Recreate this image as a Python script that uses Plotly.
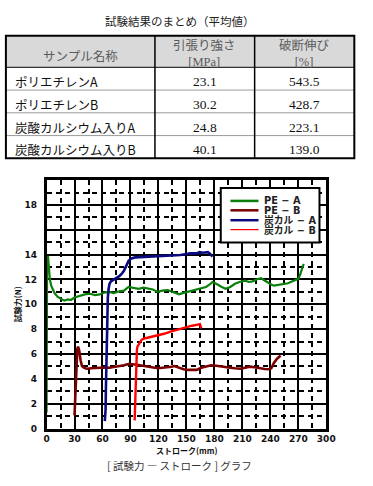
import plotly.graph_objects as go

W, H = 373, 486

# ---------------- data ----------------
table_title = "試験結果のまとめ（平均値）"
header_labels = ["サンプル名称", "引張り強さ<br>[MPa]", "破断伸び<br>[%]"]
sample_names = ["ポリエチレンA", "ポリエチレンB", "炭酸カルシウム入りA", "炭酸カルシウム入りB"]
tensile_strength = ["23.1", "30.2", "24.8", "40.1"]
elongation = ["543.5", "428.7", "223.1", "139.0"]

series_names = ["PE − A", "PE − B", "炭カル − A", "炭カル − B"]

pe_a_x = [0, 0.3, 0.6, 1.0, 1.5, 2.5, 3.5, 5, 8.6, 12, 16, 19, 23, 26, 30, 36, 41, 46.7, 52, 57,
          62, 67.5, 72, 78, 83, 88, 93, 98.6, 104, 109, 114, 119, 124, 130, 136, 142, 146, 150.6, 156, 161,
          166, 171, 175, 178, 181, 185, 188, 192, 197, 202, 207, 213, 217, 221, 225, 230, 234, 237, 241, 244,
          249, 254, 259, 265, 268, 270, 272, 273.5, 275, 276]
pe_a_y = [1.3, 8.0, 13.9, 13.5, 13.9, 12.8, 12.05, 11.5, 10.9, 10.6, 10.4, 10.3, 10.4, 10.35, 10.55, 10.7, 10.8, 10.85, 10.75, 10.8,
          10.95, 11.0, 10.9, 11.05, 11.1, 11.4, 11.35, 11.25, 11.35, 11.3, 11.2, 11.0, 11.1, 11.15, 11.0, 10.8, 10.9, 11.0, 11.1, 11.2,
          11.3, 11.4, 11.6, 11.8, 11.7, 11.5, 11.4, 11.25, 11.4, 11.65, 11.8, 11.9, 11.8, 11.85, 12.0, 12.1, 11.9, 11.8, 11.6, 11.5,
          11.55, 11.65, 11.7, 11.9, 12.0, 12.05, 12.4, 12.85, 13.1, 13.25]

pe_b_x = [30, 31, 32, 33, 33.8, 35, 36.5, 38, 40, 43, 48, 52, 57, 62, 67.5, 72, 78, 83, 88, 92,
          95, 100, 105.6, 111, 116, 122, 130, 134, 137, 142, 147, 152, 156, 161, 166, 171, 176.5, 182, 187, 192,
          197, 202, 207.7, 213, 218, 223, 228, 234, 239, 241, 244, 247, 251]
pe_b_y = [1.06, 3.0, 5.5, 6.4, 6.6, 6.3, 5.5, 5.03, 4.9, 4.82, 4.85, 4.88, 4.9, 4.92, 4.9, 4.95, 5.03, 5.1, 5.2, 5.2,
          5.15, 5.1, 5.03, 4.95, 4.9, 4.88, 4.9, 4.97, 5.03, 4.9, 4.77, 4.72, 4.72, 4.72, 4.9, 5.0, 5.09, 5.05, 4.98, 4.93,
          4.9, 4.85, 4.82, 4.9, 4.98, 4.93, 4.85, 4.8, 4.77, 4.85, 5.3, 5.6, 5.88]

ca_a_x = [62.5, 63.3, 63.6, 63.9, 64.2, 64.5, 64.7, 65.2, 65.7, 66.5, 67.5, 69, 72.7, 75, 78, 80.5, 83, 85.5, 88, 91,
          95, 100, 109, 117, 126, 135, 143.6, 150, 154, 161, 164, 168, 171, 173, 175, 178]
ca_a_y = [0.6, 1.5, 3.0, 4.5, 6.0, 6.8, 8.1, 9.5, 10.5, 11.2, 11.65, 11.85, 12.0, 12.1, 12.27, 12.45, 12.7, 13.1, 13.5, 13.7,
          13.78, 13.8, 13.83, 13.85, 13.9, 13.93, 13.97, 14.05, 14.1, 14.1, 14.2, 14.15, 14.2, 14.2, 14.1, 13.85]

ca_b_x = [94.5, 95, 95.8, 96.4, 96.9, 97.5, 98.6, 100, 102, 106, 112, 119, 126, 133, 140, 145, 150.6, 156, 161, 164.5, 166]
ca_b_y = [0.66, 2.0, 3.7, 5.3, 6.36, 6.6, 6.76, 6.95, 7.15, 7.27, 7.36, 7.5, 7.63, 7.8, 7.95, 8.1, 8.2, 8.28, 8.35, 8.4, 8.07]

x_ticks = [0, 30, 60, 90, 120, 150, 180, 210, 240, 270, 300]
y_ticks = [0, 2, 4, 6, 8, 10, 12, 14, 16, 18, 20]
y_ticktext = ["0", "2", "4", "6", "8", "10", "12", "14", "", "18", ""]

colors = ["#0a7f0a", "#7a0000", "#0a0a80", "#ff0000"]
widths = [2.2, 2.6, 2.6, 2.4]

# ---------------- helpers (pixel -> paper) ----------------
def PX(x):
    return x / W

def PY(y):
    return 1 - y / H

fig = go.Figure()

shapes = []
annotations = []

def add_text(text, x, y, size, family, color="#111", xanchor="center", weight="normal", angle=0, pad=1):
    annotations.append(dict(text=text, x=PX(x), y=PY(y), xref="paper", yref="paper",
                            showarrow=False, xanchor=xanchor, yanchor="middle", textangle=angle,
                            borderpad=pad,
                            font=dict(family=family, size=size, color=color, weight=weight)))

# ---------------- table (drawn from the lists) ----------------
tbl_left, tbl_right = 3, 363
col_edges = [3, 157, 260, 363]
row_edges = [36, 68, 91, 114, 137, 160]

shapes.append(dict(type="rect", xref="paper", yref="paper", x0=PX(tbl_left), x1=PX(tbl_right),
                   y0=PY(row_edges[1]), y1=PY(row_edges[0]), fillcolor="#d9d9d9",
                   line=dict(width=0), layer="below"))
for ry in row_edges[2:-1]:
    shapes.append(dict(type="line", xref="paper", yref="paper", x0=PX(tbl_left), x1=PX(tbl_right),
                       y0=PY(ry), y1=PY(ry), line=dict(color="#9a9a9a", width=1)))
shapes.append(dict(type="line", xref="paper", yref="paper", x0=PX(tbl_left), x1=PX(tbl_right),
                   y0=PY(row_edges[1]), y1=PY(row_edges[1]), line=dict(color="#333", width=1.3)))
for cx in col_edges[1:-1]:
    shapes.append(dict(type="line", xref="paper", yref="paper", x0=PX(cx), x1=PX(cx),
                       y0=PY(row_edges[-1]), y1=PY(row_edges[0]), line=dict(color="black", width=1.5)))
shapes.append(dict(type="rect", xref="paper", yref="paper", x0=PX(tbl_left), x1=PX(tbl_right),
                   y0=PY(row_edges[-1]), y1=PY(row_edges[0]), line=dict(color="black", width=2)))

add_text(table_title, 183, 21, 11.5, "Noto Sans CJK JP", color="#222")

jp = "Noto Sans CJK JP"
serif = "Liberation Serif"
for i, lab in enumerate(header_labels):
    cx = (col_edges[i] + col_edges[i + 1]) / 2
    cy = 56 if i == 0 else 54.5
    add_text(lab, cx, cy, 12.5, jp if i == 0 else "Liberation Serif, Noto Sans CJK JP", color="#5a5a5a")

for r in range(len(sample_names)):
    cy = (row_edges[r + 1] + row_edges[r + 2]) / 2 + 3
    add_text(sample_names[r], 10, cy, 12.5, jp, color="#111", xanchor="left")
    add_text(tensile_strength[r], (col_edges[1] + col_edges[2]) / 2, cy, 13.5, serif, color="#111")
    add_text(elongation[r], (col_edges[2] + col_edges[3]) / 2, cy, 13.5, serif, color="#111")

# ---------------- curves ----------------
for name, xs, ys, c, w in zip(series_names,
                              [pe_a_x, pe_b_x, ca_a_x, ca_b_x],
                              [pe_a_y, pe_b_y, ca_a_y, ca_b_y],
                              colors, widths):
    fig.add_trace(go.Scatter(x=xs, y=ys, mode="lines", name=name,
                             line=dict(color=c, width=w), showlegend=False))

tick_font = dict(family="DejaVu Sans", size=9, color="#111", weight="bold")

fig.update_xaxes(
    domain=[PX(45), PX(334)], range=[0, 300],
    tickmode="array", tickvals=x_ticks, ticktext=[str(v) for v in x_ticks],
    showgrid=True, gridcolor="black", gridwidth=2,
    minor=dict(dtick=15, tick0=0, showgrid=True, gridcolor="black", gridwidth=1.5, griddash="5px,4px"),
    showline=True, linecolor="black", linewidth=2.5, mirror=True,
    ticks="", tickfont=tick_font, zeroline=False, fixedrange=True,
)
fig.update_yaxes(
    domain=[PY(433), PY(182)], range=[0, 20],
    tickmode="array", tickvals=y_ticks, ticktext=y_ticktext,
    showgrid=True, gridcolor="black", gridwidth=2,
    minor=dict(dtick=1, tick0=0, showgrid=True, gridcolor="black", gridwidth=1.5, griddash="5px,4px"),
    showline=True, linecolor="black", linewidth=2.5, mirror=True,
    ticks="outside", ticklen=5, tickcolor="rgba(0,0,0,0)",
    tickfont=tick_font, zeroline=False, fixedrange=True,
)

# legend box
shapes.append(dict(type="rect", xref="paper", yref="paper", x0=PX(225), x1=PX(327), y0=PY(245), y1=PY(190),
                   fillcolor="white", line=dict(color="black", width=2), layer="above"))
leg_y = [203, 212.5, 222.5, 232]
for name, c, ly, lw in zip(series_names, colors, leg_y, [2.5, 2.5, 2.5, 1.2]):
    shapes.append(dict(type="line", xref="paper", yref="paper", x0=PX(235), x1=PX(264), y0=PY(ly), y1=PY(ly),
                       line=dict(color=c, width=lw), layer="above"))
    add_text(name, 269, ly, 9.8, "DejaVu Sans, Noto Sans CJK JP", color="#222", xanchor="left",
             weight="bold", pad=0)

# axis titles
add_text("試験力(N)", 15, 308, 8, jp, color="#111", weight="bold", angle=-90)
add_text("ストローク(mm)", 190, 455.5, 8, jp, color="#111", weight="bold", pad=0)
# caption
add_text("[ 試験力 ― ストローク ] グラフ", 182, 470, 10.5, jp, color="#333", pad=0)

fig.update_layout(
    width=W, height=H,
    margin=dict(l=0, r=0, t=0, b=0, pad=0),
    paper_bgcolor="white", plot_bgcolor="white",
    showlegend=False,
    shapes=shapes, annotations=annotations,
)

fig.write_html("out.html", config={"displayModeBar": False},
               post_script="document.body.style.margin='0px';document.body.style.padding='0px';")
